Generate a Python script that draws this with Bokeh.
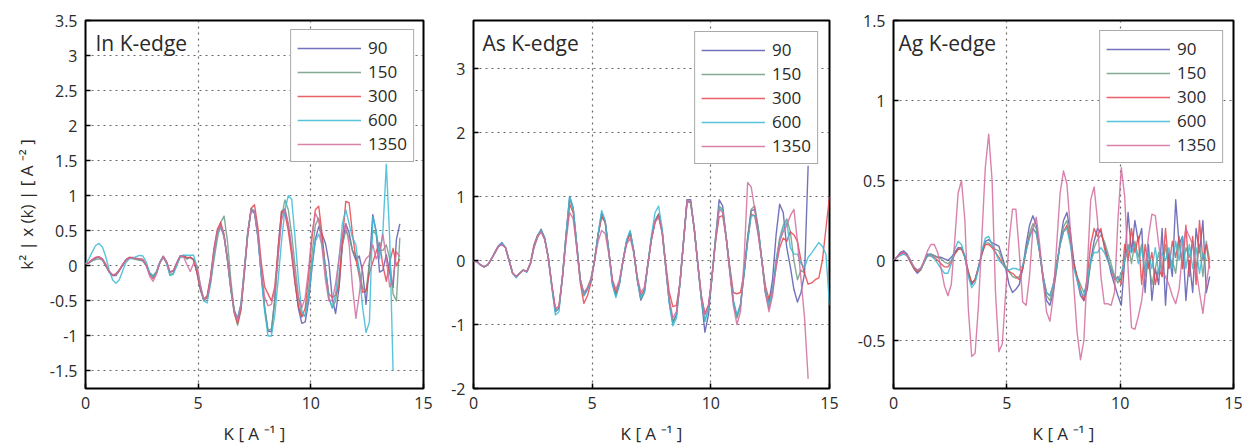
import numpy as np
from bokeh.plotting import figure
from bokeh.layouts import row
from bokeh.models import (FixedTicker, CustomJSTickFormatter, Label, Legend,
                          LegendItem, Range1d)
from bokeh.embed import file_html
from bokeh.resources import INLINE

nan = float("nan")

SERIES = ["90", "150", "300", "600", "1350"]
COLORS = ["#5a5ab2", "#6e9c84", "#e8454d", "#3bbad6", "#d26c9c"]
X_TICKS = [0, 5, 10, 15]

IN_K = [round(0.15 * i, 2) for i in range(94)]
AS_K = [round(0.15 * i, 2) for i in range(101)]
AG_K = [round(0.15 * i, 2) for i in range(94)]

# ---------------- In K-edge ----------------
IN_90 = [0.03, 0.04, 0.08, 0.11, 0.12, 0.09, 0.0, -0.09, -0.14, -0.14,
         -0.07, 0.01, 0.09, 0.12, 0.11, 0.1, 0.085, 0.07, 0.0, -0.11,
         -0.16, -0.09, 0.05, 0.13, 0.05, -0.09, -0.07, 0.04, 0.14, 0.15,
         0.1, 0.125, 0.09, -0.1, -0.34, -0.49, -0.44, -0.18, 0.21, 0.49,
         0.58, 0.41, 0.09, -0.32, -0.63, -0.75, -0.55, -0.06, 0.47, 0.79,
         0.75, 0.41, -0.12, -0.6, -0.93, -0.94, -0.47, 0.26, 0.77, 0.81,
         0.58, 0.21, -0.24, -0.61, -0.82, -0.8, -0.51, -0.03, 0.38, 0.56,
         0.45, 0.32, 0.05, -0.47, -0.68, -0.32, 0.3, 0.6, 0.47, 0.21,
         0.08, 0.14, -0.09, -0.55, 0.04, 0.73, 0.48, -0.09, -0.06, 0.16,
         -0.1, -0.31, 0.38, 0.6]
IN_150 = [0.03, 0.04, 0.07, 0.09, 0.1, 0.08, 0.0, -0.08, -0.13, -0.12,
          -0.06, 0.01, 0.08, 0.11, 0.1, 0.09, 0.08, 0.07, 0.0, -0.1,
          -0.14, -0.08, 0.04, 0.12, 0.03, -0.13, -0.1, 0.02, 0.12, 0.13,
          0.1, 0.12, 0.09, -0.1, -0.34, -0.49, -0.46, -0.25, 0.08, 0.38,
          0.62, 0.71, 0.35, -0.2, -0.65, -0.85, -0.63, -0.1, 0.45, 0.82,
          0.78, 0.45, -0.1, -0.58, -0.92, -0.9, -0.5, 0.15, 0.7, 0.94,
          0.8, 0.45, 0.0, -0.45, -0.72, -0.7, -0.35, 0.15, 0.58, 0.68,
          0.4, -0.05, -0.45, -0.6, -0.5, -0.15, 0.3, 0.5, 0.4, 0.22,
          0.15, -0.05, -0.32, -0.38, 0.05, 0.5, 0.45, 0.22, 0.22, 0.3,
          0.1, -0.4, -0.5, 0.4]
IN_300 = [0.03, 0.05, 0.09, 0.12, 0.13, 0.1, 0.02, -0.08, -0.13, -0.12,
          -0.06, 0.02, 0.09, 0.12, 0.12, 0.11, 0.1, 0.09, 0.01, -0.12,
          -0.18, -0.1, 0.05, 0.14, 0.06, -0.09, -0.07, 0.04, 0.14, 0.14,
          0.12, 0.12, 0.08, -0.1, -0.33, -0.47, -0.43, -0.15, 0.25, 0.52,
          0.62, 0.45, 0.1, -0.32, -0.68, -0.82, -0.62, -0.1, 0.45, 0.82,
          0.87, 0.55, 0.05, -0.3, -0.4, -0.5, -0.3, 0.25, 0.78, 0.75,
          0.5, 0.15, -0.25, -0.58, -0.73, -0.6, -0.15, 0.4, 0.8, 0.85,
          0.45, -0.05, -0.4, -0.45, -0.42, -0.3, 0.35, 0.92, 0.9, 0.45,
          0.1, -0.15, -0.38, -0.35, -0.1, 0.05, 0.2, 0.33, 0.0, -0.22,
          0.05, 0.25, 0.0, 0.1]
IN_600 = [0.03, 0.1, 0.2, 0.29, 0.32, 0.27, 0.13, -0.06, -0.2, -0.25,
          -0.2, -0.07, 0.05, 0.1, 0.11, 0.13, 0.15, 0.14, 0.05, -0.1,
          -0.16, -0.09, 0.05, 0.13, 0.04, -0.14, -0.12, 0.0, 0.13, 0.15,
          0.15, 0.15, 0.15, -0.02, -0.28, -0.5, -0.53, -0.25, 0.15, 0.45,
          0.55, 0.42, 0.08, -0.35, -0.65, -0.75, -0.55, -0.05, 0.48, 0.8,
          0.78, 0.42, -0.15, -0.65, -1.0, -1.0, -0.7, -0.2, 0.35, 0.8,
          1.0, 0.95, 0.4, -0.2, -0.65, -0.73, -0.45, 0.0, 0.35, 0.45,
          0.3, -0.05, -0.45, -0.6, -0.4, 0.1, 0.6, 0.8, 0.6, 0.4,
          0.3, -0.1, -0.6, -0.95, -0.8, 0.7, 0.5, 0.1, 0.5, 1.45,
          0.4, -1.5, nan, nan]
IN_1350 = [0.03, 0.05, 0.09, 0.12, 0.13, 0.1, 0.02, -0.08, -0.13, -0.12,
           -0.06, 0.02, 0.08, 0.11, 0.11, 0.1, 0.1, 0.09, 0.0, -0.15,
           -0.22, -0.12, 0.04, 0.13, 0.05, -0.09, -0.07, 0.04, 0.14, 0.13,
           0.02, -0.08, 0.04, 0.0, -0.28, -0.48, -0.45, -0.2, 0.2, 0.48,
           0.58, 0.42, 0.08, -0.33, -0.65, -0.78, -0.57, -0.07, 0.46, 0.79,
           0.78, 0.45, -0.05, -0.45, -0.57, -0.55, -0.35, 0.15, 0.65, 0.8,
           0.6, 0.25, -0.15, -0.45, -0.6, -0.45, -0.05, 0.45, 0.75, 0.65,
           0.25, -0.2, -0.5, -0.5, -0.25, 0.1, 0.45, 0.6, 0.3, -0.3,
           -0.75, -0.4, 0.0, 0.1, 0.15, 0.3, 0.1, 0.2, 0.45, 0.1,
           -0.3, -0.2, 0.2, 0.13]
IN_YTICKS = [-1.5, -1, -0.5, 0, 0.5, 1, 1.5, 2, 2.5, 3, 3.5]

# ---------------- As K-edge ----------------
AS_90 = [0.0, -0.02, -0.07, -0.1, -0.07, 0.02, 0.13, 0.23, 0.28, 0.2,
         0.0, -0.2, -0.26, -0.2, -0.15, -0.18, -0.05, 0.22, 0.38, 0.49,
         0.35, 0.05, -0.4, -0.8, -0.75, -0.25, 0.4, 1.0, 0.82, 0.25,
         -0.3, -0.55, -0.45, -0.3, 0.0, 0.4, 0.74, 0.6, 0.15, -0.35,
         -0.55, -0.35, 0.0, 0.3, 0.45, 0.15, -0.3, -0.62, -0.5, -0.05,
         0.35, 0.62, 0.73, 0.45, -0.1, -0.65, -0.96, -0.85, -0.35, 0.3,
         0.95, 0.95, 0.5, -0.05, -0.6, -1.12, -0.85, -0.25, 0.35, 0.95,
         0.85, 0.35, -0.15, -0.65, -0.88, -0.7, -0.2, 0.35, 0.78, 0.8,
         0.5, 0.0, -0.5, -0.65, -0.3, 0.4, 0.88, 0.75, 0.2, -0.1,
         -0.45, -0.65, -0.5, -0.2, 1.48, nan, nan, nan, nan, nan,
         nan]
AS_150 = [0.0, -0.02, -0.07, -0.1, -0.07, 0.02, 0.12, 0.22, 0.26, 0.2,
          0.0, -0.2, -0.25, -0.2, -0.15, -0.17, -0.05, 0.22, 0.38, 0.47,
          0.35, 0.05, -0.4, -0.78, -0.75, -0.25, 0.4, 0.95, 0.8, 0.25,
          -0.3, -0.52, -0.45, -0.3, 0.0, 0.4, 0.7, 0.6, 0.15, -0.35,
          -0.55, -0.35, 0.0, 0.3, 0.45, 0.15, -0.3, -0.6, -0.5, -0.05,
          0.35, 0.62, 0.72, 0.45, -0.1, -0.65, -0.98, -0.85, -0.35, 0.3,
          0.9, 0.92, 0.5, -0.05, -0.6, -0.95, -0.75, -0.25, 0.35, 0.85,
          0.8, 0.35, -0.15, -0.65, -0.9, -0.7, -0.2, 0.35, 0.8, 0.85,
          0.5, 0.0, -0.5, -0.75, -0.5, 0.0, 0.35, 0.55, 0.65, 0.45,
          0.0, -0.3, -0.15, -0.2, nan, nan, nan, nan, nan, nan,
          nan]
AS_300 = [0.0, -0.02, -0.07, -0.1, -0.07, 0.02, 0.12, 0.22, 0.25, 0.2,
          0.0, -0.2, -0.25, -0.2, -0.15, -0.17, -0.03, 0.25, 0.4, 0.45,
          0.33, 0.05, -0.38, -0.75, -0.72, -0.25, 0.35, 0.88, 0.75, 0.2,
          -0.35, -0.67, -0.55, -0.35, 0.0, 0.4, 0.68, 0.6, 0.15, -0.3,
          -0.5, -0.35, 0.0, 0.28, 0.42, 0.15, -0.28, -0.55, -0.45, -0.05,
          0.33, 0.6, 0.7, 0.45, -0.05, -0.5, -0.72, -0.7, -0.35, 0.3,
          0.95, 0.9, 0.5, -0.05, -0.55, -0.83, -0.7, -0.25, 0.3, 0.68,
          0.7, 0.35, -0.1, -0.5, -0.52, -0.5, -0.2, 0.3, 0.72, 0.7,
          0.4, 0.0, -0.4, -0.6, -0.45, -0.1, 0.2, 0.35, 0.3, 0.45,
          0.4, 0.3, 0.0, -0.2, -0.37, -0.35, -0.3, -0.27, 0.0, 0.5,
          1.0]
AS_600 = [0.0, -0.02, -0.07, -0.1, -0.07, 0.02, 0.12, 0.22, 0.27, 0.2,
          0.0, -0.2, -0.27, -0.2, -0.15, -0.18, -0.05, 0.22, 0.38, 0.47,
          0.35, 0.05, -0.42, -0.85, -0.8, -0.25, 0.4, 1.0, 0.82, 0.25,
          -0.3, -0.55, -0.45, -0.3, 0.0, 0.42, 0.78, 0.62, 0.15, -0.38,
          -0.58, -0.38, 0.0, 0.32, 0.47, 0.15, -0.3, -0.58, -0.5, -0.05,
          0.4, 0.75, 0.85, 0.5, -0.1, -0.68, -1.02, -0.9, -0.35, 0.3,
          0.95, 0.9, 0.5, -0.05, -0.6, -0.95, -0.75, -0.25, 0.35, 0.82,
          0.78, 0.35, -0.15, -0.62, -0.85, -0.68, -0.2, 0.3, 0.7, 0.7,
          0.45, 0.0, -0.45, -0.7, -0.45, 0.0, 0.3, 0.5, 0.6, 0.2,
          0.1, 0.1, -0.05, -0.1, 0.05, 0.12, 0.2, 0.28, 0.22, 0.1,
          -0.7]
AS_1350 = [0.0, -0.02, -0.07, -0.1, -0.07, 0.02, 0.12, 0.22, 0.25, 0.2,
           0.0, -0.2, -0.25, -0.2, -0.15, -0.17, -0.05, 0.2, 0.36, 0.45,
           0.33, 0.05, -0.38, -0.75, -0.72, -0.25, 0.3, 0.75, 0.65, 0.2,
           -0.3, -0.5, -0.42, -0.28, 0.0, 0.3, 0.47, 0.42, 0.1, -0.3,
           -0.45, -0.3, 0.0, 0.25, 0.35, 0.12, -0.25, -0.5, -0.42, -0.05,
           0.33, 0.6, 0.68, 0.42, -0.1, -0.6, -0.9, -0.8, -0.35, 0.3,
           0.95, 0.9, 0.5, -0.05, -0.55, -0.85, -0.7, -0.25, 0.3, 0.8,
           0.75, 0.35, -0.2, -0.7, -1.0, -0.8, 0.0, 1.22, 1.15, 0.8,
           0.4, 0.0, -0.5, -0.8, -0.55, -0.1, 0.3, 0.45, 0.55, 0.7,
           0.8, 0.3, -0.3, -0.9, -1.85, nan, nan, nan, nan, nan,
           nan]
AS_YTICKS = [-2, -1, 0, 1, 2, 3]

# ---------------- Ag K-edge ----------------
AG_90 = [0.0, 0.02, 0.05, 0.06, 0.04, 0.0, -0.05, -0.08, -0.06, -0.01,
         0.04, 0.04, 0.03, 0.02, 0.02, 0.01, 0.0, 0.02, 0.05, 0.08,
         0.08, 0.02, -0.08, -0.15, -0.12, -0.04, 0.05, 0.12, 0.13, 0.11,
         0.1, 0.09, 0.02, -0.05, -0.15, -0.2, -0.18, -0.15, -0.05, 0.1,
         0.22, 0.28, 0.22, 0.05, -0.12, -0.25, -0.28, -0.2, -0.05, 0.12,
         0.25, 0.3, 0.18, 0.0, -0.12, -0.22, -0.25, -0.18, 0.0, 0.12,
         0.2, 0.18, 0.1, 0.02, -0.08, -0.15, -0.22, -0.28, 0.0, 0.3,
         0.05, 0.25, 0.12, 0.2, -0.2, 0.1, -0.25, -0.05, -0.15, 0.2,
         -0.28, 0.05, -0.1, 0.38, 0.1, 0.15, -0.25, 0.0, -0.2, 0.2,
         0.05, 0.25, -0.2, -0.1]
AG_150 = [0.0, 0.02, 0.04, 0.05, 0.03, -0.01, -0.05, -0.07, -0.06, -0.01,
          0.03, 0.04, 0.03, 0.02, 0.01, -0.01, -0.02, 0.0, 0.04, 0.07,
          0.08, 0.03, -0.07, -0.14, -0.12, -0.05, 0.04, 0.11, 0.11, 0.09,
          0.07, 0.06, 0.0, -0.04, -0.07, -0.1, -0.11, -0.1, -0.05, 0.06,
          0.17, 0.23, 0.2, 0.06, -0.1, -0.22, -0.25, -0.18, -0.05, 0.1,
          0.21, 0.25, 0.15, -0.02, -0.1, -0.15, -0.2, -0.15, -0.02, 0.08,
          0.13, 0.16, 0.12, 0.05, -0.02, -0.1, -0.14, -0.1, 0.0, 0.1,
          -0.02, 0.12, 0.02, 0.1, -0.1, 0.0, -0.15, -0.05, 0.05, -0.1,
          0.1, -0.05, 0.0, -0.08, 0.12, -0.05, 0.08, 0.02, 0.12, -0.05,
          0.1, -0.1, 0.12, 0.0]
AG_300 = [0.0, 0.02, 0.04, 0.05, 0.03, -0.01, -0.05, -0.07, -0.05, -0.01,
          0.03, 0.03, 0.02, 0.0, -0.02, -0.04, -0.04, -0.01, 0.04, 0.07,
          0.07, 0.02, -0.07, -0.14, -0.12, -0.04, 0.04, 0.1, 0.1, 0.08,
          0.05, 0.02, -0.02, -0.05, -0.07, -0.08, -0.1, -0.12, -0.05, 0.06,
          0.15, 0.2, 0.17, 0.05, -0.1, -0.2, -0.22, -0.15, -0.02, 0.1,
          0.18, 0.22, 0.12, -0.02, -0.1, -0.18, -0.25, -0.1, 0.1, 0.2,
          0.15, 0.2, 0.08, 0.0, -0.05, -0.12, -0.1, -0.15, 0.1, 0.0,
          0.2, 0.05, 0.15, -0.15, 0.1, -0.05, 0.05, -0.15, -0.05, -0.1,
          0.2, -0.05, 0.12, 0.02, 0.15, -0.05, 0.22, -0.1, 0.15, -0.15,
          0.25, 0.0, 0.1, -0.05]
AG_600 = [0.0, 0.02, 0.03, 0.04, 0.03, 0.0, -0.04, -0.06, -0.05, -0.01,
          0.03, 0.03, 0.01, -0.02, -0.05, -0.08, -0.08, -0.02, 0.07, 0.12,
          0.1, 0.02, -0.1, -0.17, -0.14, -0.05, 0.06, 0.14, 0.15, 0.1,
          0.05, 0.0, -0.02, -0.05, -0.06, -0.05, -0.05, -0.06, -0.03, 0.06,
          0.14, 0.2, 0.17, 0.05, -0.1, -0.2, -0.22, -0.15, -0.03, 0.1,
          0.18, 0.2, 0.1, -0.05, -0.12, -0.2, -0.22, -0.12, 0.0, 0.05,
          0.05, 0.08, 0.05, 0.0, -0.05, -0.1, -0.12, -0.08, 0.0, 0.08,
          0.05, 0.1, -0.02, 0.08, -0.08, 0.05, -0.05, 0.08, -0.08, 0.05,
          0.0, 0.08, -0.05, 0.12, 0.0, 0.15, -0.05, 0.1, -0.05, 0.08,
          -0.08, 0.05, 0.0, nan]
AG_1350 = [0.0, 0.02, 0.04, 0.05, 0.03, 0.0, -0.04, -0.06, -0.05, 0.0,
           0.06, 0.1, 0.1, 0.05, -0.05, -0.16, -0.22, -0.15, 0.12, 0.42,
           0.5, 0.25, -0.3, -0.6, -0.58, -0.28, 0.15, 0.58, 0.79, 0.5,
           -0.2, -0.57, -0.52, -0.2, 0.12, 0.32, 0.32, 0.05, -0.26, -0.28,
           -0.1, 0.2, 0.27, 0.1, -0.12, -0.32, -0.38, -0.22, 0.1, 0.42,
           0.56, 0.48, 0.2, -0.15, -0.45, -0.62, -0.5, -0.05, 0.38, 0.46,
           0.25, -0.1, -0.27, -0.27, -0.28, -0.2, 0.25, 0.58, 0.4, -0.05,
           -0.42, -0.43, -0.35, -0.25, -0.05, 0.15, 0.29, 0.28, 0.1, -0.06,
           -0.1, -0.15, -0.22, -0.27, -0.18, 0.05, 0.2, 0.15, 0.1, -0.05,
           -0.2, -0.33, -0.15, 0.0]
AG_YTICKS = [-0.5, 0, 0.5, 1, 1.5]

FONT = "Open Sans"
TXT = "#2a2a2a"
FH = 368


def style_axis(ax, ticks):
    ax.ticker = FixedTicker(ticks=ticks)
    ax.axis_line_color = None
    ax.major_tick_in = 5
    ax.major_tick_out = 0
    ax.major_tick_line_color = "black"
    ax.major_tick_line_width = 1.5
    ax.minor_tick_line_color = None
    ax.formatter = CustomJSTickFormatter(code="return (Math.round(tick*10)/10).toString();")
    ax.major_label_text_font = FONT
    ax.major_label_text_font_size = "16px"
    ax.major_label_text_color = TXT
    ax.major_label_standoff = 8
    ax.axis_label_text_font = FONT
    ax.axis_label_text_font_size = "17px"
    ax.axis_label_text_font_style = "normal"
    ax.axis_label_text_color = TXT


def panel(title, k, ys, y0, y1, yticks, left, fw, right, lmargin, title_x, ylabel=None):
    p = figure(frame_width=fw, frame_height=FH, min_border_left=left, min_border_right=right,
               min_border_top=20, min_border_bottom=59,
               x_range=Range1d(0, 15), y_range=Range1d(y0, y1),
               output_backend="svg", toolbar_location=None)
    p.background_fill_color = "white"
    p.border_fill_color = "white"
    p.outline_line_color = "black"
    p.outline_line_width = 2
    style_axis(p.xaxis[0], X_TICKS)
    style_axis(p.yaxis[0], yticks)
    p.xaxis[0].axis_label = "K [ A \u207b\u00b9 ]"
    p.xaxis[0].axis_label_standoff = 10
    if ylabel:
        p.yaxis[0].axis_label = ylabel
        p.yaxis[0].axis_label_standoff = 9

    for g in (p.xgrid[0], p.ygrid[0]):
        g.grid_line_color = "#444444"
        g.grid_line_dash = "2 4"
        g.grid_line_width = 1.2
        g.grid_line_alpha = 0.8
    p.xgrid[0].ticker = FixedTicker(ticks=X_TICKS)
    p.ygrid[0].ticker = FixedTicker(ticks=yticks)

    items = []
    karr = np.array(k, dtype=float)
    for name, color, y in zip(SERIES, COLORS, ys):
        r = p.line(karr, np.array(y, dtype=float), line_color=color, line_width=1.4,
                   line_alpha=0.85, line_join="round")
        items.append(LegendItem(label=name, renderers=[r]))
    leg = Legend(items=items, location="top_right", margin=lmargin,
                 padding=6, spacing=1, label_height=20, glyph_height=20, glyph_width=64,
                 label_standoff=7, label_text_font=FONT, label_text_font_size="17px",
                 label_text_color=TXT, border_line_color="#555555", border_line_width=1.5,
                 background_fill_color="white", background_fill_alpha=1.0)
    p.add_layout(leg)
    p.add_layout(Label(x=title_x, y=FH - 8, x_units="screen", y_units="screen", text=title,
                       text_baseline="top", text_font=FONT, text_font_size="21px",
                       text_color=TXT))
    return p


p1 = panel("In K-edge", IN_K, [IN_90, IN_150, IN_300, IN_600, IN_1350], -1.75, 3.5, IN_YTICKS,
           85, 338, 17, 9, 10, ylabel="k\u00b2 | x (k) | [ A \u207b\u00b2 ]")
p2 = panel("As K-edge", AS_K, [AS_90, AS_150, AS_300, AS_600, AS_1350], -2, 3.75, AS_YTICKS,
           33, 356, 11, 11, 9)
p3 = panel("Ag K-edge", AG_K, [AG_90, AG_150, AG_300, AG_600, AG_1350], -0.8, 1.5, AG_YTICKS,
           53, 340, 11, 10, 5)

layout = row(p1, p2, p3, spacing=0)
open("out.html", "w").write(file_html(layout, INLINE))
